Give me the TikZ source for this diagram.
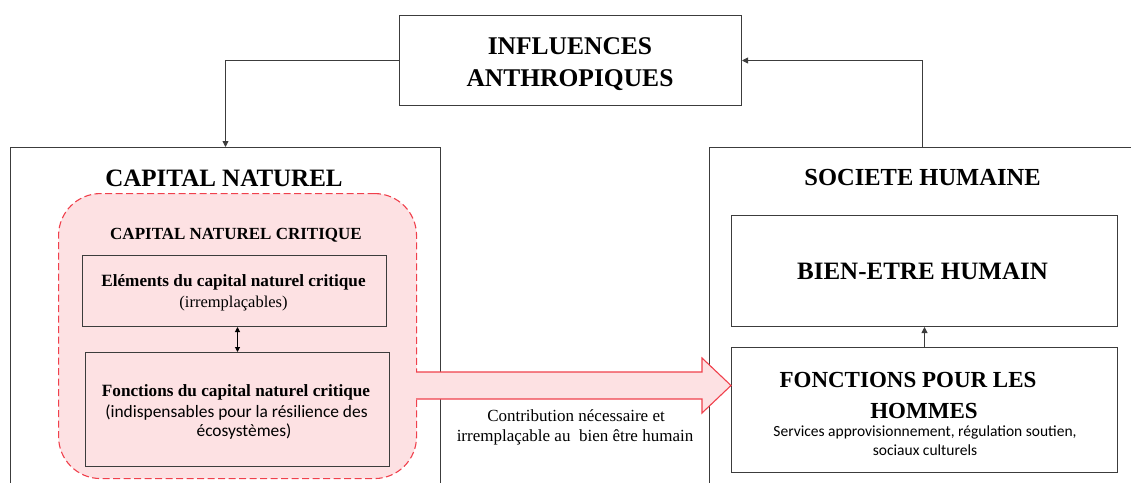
\documentclass[tikz,border=0pt]{standalone}
\usepackage{fontspec}
\setmainfont{Liberation Serif}
\newfontfamily\calib{Carlito}
\usetikzlibrary{arrows.meta}
\definecolor{linegray}{HTML}{3C3C3C}
\definecolor{pinkfill}{HTML}{FDE1E3}
\definecolor{redline}{HTML}{F0404C}
\newcommand{\fsz}[1]{\fontsize{#1}{#1}\selectfont}
\begin{document}
\begin{tikzpicture}[x=1pt,y=-1pt,
  box/.style={draw=linegray, line width=1pt, rectangle, inner sep=0pt},
  txt/.style={inner sep=0pt, anchor=base, text=black},
  conn/.style={draw=linegray, line width=0.9pt, -{Triangle[length=6pt,width=6pt]}},
  dbl/.style={draw=black, line width=1pt, {Triangle[length=5pt,width=5pt]}-{Triangle[length=5pt,width=5pt]}},
  critzone/.style={draw=redline, line width=1.1pt, dash pattern=on 7pt off 3.5pt, fill=pinkfill, rounded corners=42pt, inner sep=0pt},
  bigarrowfill/.style={fill=pinkfill},
  bigarrowline/.style={draw=redline, line width=1.1pt, line join=miter}
]
\useasboundingbox (0,0) rectangle (1131,482);
\begin{scope}
\clip (0,0) rectangle (1131,482);

% top box
\node[box, minimum width=342pt, minimum height=90pt, anchor=north west] (infl) at (399,15) {};
\node[txt, font={\fsz{25.5}\bfseries}] (infl1) at (570,54) {INFLUENCES};
\node[txt, font={\fsz{25.5}\bfseries}] (infl2) at (570,86) {ANTHROPIQUES};

% left big box
\node[box, minimum width=430pt, minimum height=360pt, anchor=north west] (capbox) at (10,147) {};
\node[txt, font={\fsz{25}\bfseries}] (captitle) at (224,186) {CAPITAL NATUREL};

% critical zone
\node[critzone, minimum width=358pt, minimum height=285pt, anchor=north west] (crit) at (58,193) {};
\node[txt, font={\fsz{17}\bfseries}] (crittitle) at (236,239) {CAPITAL NATUREL CRITIQUE};

\node[box, minimum width=304pt, minimum height=71pt, anchor=north west] (elem) at (82,255) {};
\node[txt, font={\fsz{17.2}\bfseries}] (elem1) at (233.5,286) {El\'ements du capital naturel critique};
\node[txt, font={\fsz{16.5}}] (elem2) at (233.5,307) {(irremplaçables)};

\node[box, minimum width=304pt, minimum height=114pt, anchor=north west] (fonc) at (85,352) {};
\node[txt, font={\fsz{17.2}\bfseries}] (fonc1) at (236,396) {Fonctions du capital naturel critique};
\node[txt, font={\calib\fsz{17.4}}] (fonc2) at (236.5,417) {(indispensables pour la résilience des};
\node[txt, font={\calib\fsz{17.4}}] (fonc3) at (244,436) {écosystèmes)};

\draw[dbl] (fonc.north |- elem.south) -- (fonc.north);

% right big box
\node[box, minimum width=426pt, minimum height=360pt, anchor=north west] (soc) at (709,147) {};
\node[txt, font={\fsz{24.5}\bfseries}] (soctitle) at (922.5,185.5) {SOCIETE HUMAINE};

\node[box, minimum width=386pt, minimum height=111pt, anchor=north west] (bien) at (731,215) {};
\node[txt, font={\fsz{25}\bfseries}] (bientxt) at (922.5,279) {BIEN-ETRE HUMAIN};

\node[box, minimum width=386pt, minimum height=125pt, anchor=north west] (fph) at (731,347) {};
\node[txt, font={\fsz{23}\bfseries}] (fph1) at (908,387) {FONCTIONS POUR LES};
\node[txt, font={\fsz{23}\bfseries}] (fph2) at (924,418) {HOMMES};
\node[txt, font={\calib\fsz{15.5}}] (fph3) at (925,436) {Services approvisionnement, régulation soutien,};
\node[txt, font={\calib\fsz{15.5}}] (fph4) at (925,455) {sociaux culturels};

\draw[conn] (fph.north) -- (bien.south);

% connectors to/from top box
\draw[conn] (infl.west) -| (capbox.north);
\draw[conn] (soc.north) |- (infl.east);

% big arrow
\fill[bigarrowfill] (416,372) -- (702,372) -- (702,358) -- (731,385.5) -- (702,413) -- (702,399) -- (416,399) -- cycle;
\draw[bigarrowline] (416,372) -- (702,372) -- (702,358) -- (731,385.5) -- (702,413) -- (702,399) -- (416,399);

\node[txt, font={\fsz{17}}] (contrib1) at (576,421) {Contribution nécessaire et};
\node[txt, font={\fsz{17}}] (contrib2) at (575,441) {irremplaçable au\ \ bien être humain};
\end{scope}
\end{tikzpicture}
\end{document}
